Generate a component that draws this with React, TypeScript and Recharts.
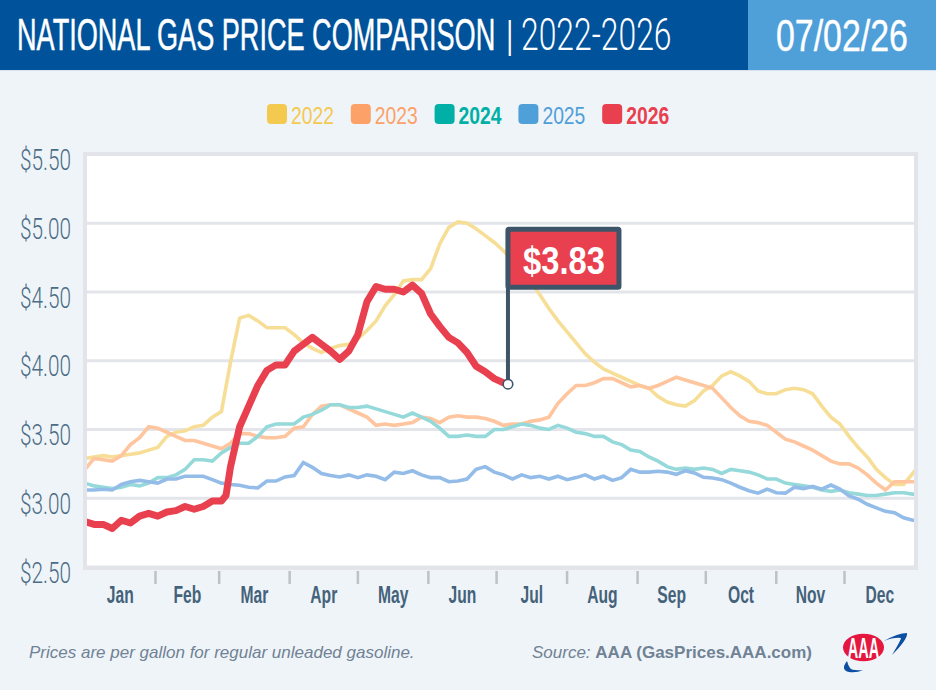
import { LineChart, Line, XAxis, YAxis, CartesianGrid } from 'recharts'

const days = [
  0, 4, 8, 12, 16, 20, 24, 28, 32, 36,
  40, 44, 48, 52, 56, 60, 64, 68, 72, 76,
  80, 84, 88, 92, 96, 100, 104, 108, 112, 116,
  120, 124, 128, 132, 136, 140, 144, 148, 152, 156,
  160, 164, 168, 172, 176, 180, 184, 188, 192, 196,
  200, 204, 208, 212, 216, 220, 224, 228, 232, 236,
  240, 244, 248, 252, 256, 260, 264, 268, 272, 276,
  280, 284, 288, 292, 296, 300, 304, 308, 312, 316,
  320, 324, 328, 332, 336, 340, 344, 348, 352, 356,
  360, 364, 365,
]

const prices2022 = [
  3.29, 3.3, 3.31, 3.3, 3.31, 3.32, 3.33, 3.35, 3.37, 3.45,
  3.48, 3.49, 3.52, 3.53, 3.59, 3.63, 3.99, 4.31, 4.33, 4.29,
  4.24, 4.24, 4.24, 4.19, 4.13, 4.09, 4.06, 4.09, 4.11, 4.12,
  4.16, 4.22, 4.29, 4.4, 4.48, 4.58, 4.59, 4.59, 4.67, 4.85,
  4.97, 5.01, 5.0, 4.96, 4.91, 4.86, 4.8, 4.73, 4.66, 4.58,
  4.48, 4.38, 4.29, 4.21, 4.13, 4.05, 3.99, 3.94, 3.91, 3.88,
  3.85, 3.82, 3.8, 3.74, 3.7, 3.68, 3.67, 3.71, 3.78, 3.82,
  3.89, 3.92, 3.89, 3.85, 3.78, 3.76, 3.76, 3.79, 3.8, 3.79,
  3.76, 3.67, 3.59, 3.54, 3.45, 3.37, 3.3, 3.21, 3.15, 3.1,
  3.1, 3.18, 3.2,
]

const prices2023 = [
  3.21, 3.29, 3.28, 3.27, 3.31, 3.39, 3.44, 3.52, 3.51, 3.48,
  3.45, 3.42, 3.42, 3.4, 3.38, 3.36, 3.4, 3.47, 3.47, 3.45,
  3.44, 3.44, 3.45, 3.51, 3.52, 3.61, 3.67, 3.68, 3.68, 3.65,
  3.62, 3.59, 3.53, 3.54, 3.53, 3.54, 3.55, 3.59, 3.58, 3.55,
  3.59, 3.6, 3.59, 3.59, 3.58, 3.56, 3.53, 3.54, 3.54, 3.56,
  3.57, 3.59, 3.69, 3.76, 3.82, 3.82, 3.84, 3.87, 3.87, 3.84,
  3.81, 3.82, 3.8, 3.82, 3.85, 3.88, 3.86, 3.84, 3.82, 3.8,
  3.73, 3.66, 3.6, 3.56, 3.55, 3.53, 3.48, 3.43, 3.41, 3.38,
  3.35, 3.31, 3.27, 3.25, 3.25, 3.22, 3.17, 3.11, 3.06, 3.12,
  3.12, 3.12, 3.12,
]

const prices2024 = [
  3.11, 3.09, 3.08, 3.07, 3.08, 3.1, 3.09, 3.11, 3.15, 3.15,
  3.17, 3.21, 3.28, 3.28, 3.27, 3.33, 3.37, 3.4, 3.4, 3.45,
  3.52, 3.54, 3.54, 3.54, 3.59, 3.61, 3.64, 3.68, 3.68, 3.66,
  3.66, 3.67, 3.65, 3.63, 3.61, 3.59, 3.62, 3.59, 3.56, 3.51,
  3.45, 3.45, 3.46, 3.45, 3.45, 3.5, 3.5, 3.52, 3.54, 3.53,
  3.51, 3.5, 3.53, 3.51, 3.48, 3.47, 3.45, 3.45, 3.41, 3.39,
  3.35, 3.34, 3.3, 3.27, 3.23, 3.21, 3.22, 3.21, 3.22, 3.21,
  3.18, 3.21, 3.2, 3.19, 3.17, 3.14, 3.14, 3.11, 3.1, 3.09,
  3.08, 3.06, 3.05, 3.06, 3.04, 3.03, 3.02, 3.02, 3.03, 3.04,
  3.04, 3.03, 3.03,
]

const prices2025 = [
  3.06, 3.06, 3.065, 3.06, 3.1, 3.12, 3.13, 3.12, 3.11, 3.14,
  3.14, 3.16, 3.16, 3.16, 3.135, 3.11, 3.1, 3.095, 3.08, 3.075,
  3.125, 3.125, 3.155, 3.165, 3.26, 3.225, 3.18, 3.165, 3.155, 3.17,
  3.15, 3.17, 3.16, 3.135, 3.19, 3.18, 3.2, 3.17, 3.15, 3.15,
  3.12, 3.125, 3.14, 3.21, 3.23, 3.19, 3.17, 3.14, 3.17, 3.15,
  3.16, 3.14, 3.16, 3.135, 3.15, 3.17, 3.14, 3.16, 3.13, 3.15,
  3.21, 3.19, 3.19, 3.196, 3.19, 3.174, 3.2, 3.184, 3.152, 3.147,
  3.135, 3.11, 3.08, 3.055, 3.037, 3.066, 3.04, 3.037, 3.08, 3.07,
  3.086, 3.066, 3.096, 3.066, 3.017, 2.993, 2.956, 2.93, 2.905, 2.895,
  2.858, 2.84, 2.84,
]

const days2026 = [
  0, 4, 8, 12, 16, 20, 24, 28, 32, 36,
  40, 44, 48, 52, 56, 60, 62, 64, 68, 72, 76,
  80, 84, 88, 92, 96, 100, 104, 108, 112, 116,
  120, 124, 128, 132, 136, 140, 144, 148, 152, 156,
  160, 164, 168, 172, 176, 180, 184, 186,
]

const prices2026 = [
  2.83, 2.81, 2.81, 2.78, 2.84, 2.82, 2.87, 2.89, 2.87, 2.9,
  2.91, 2.94, 2.92, 2.94, 2.98, 2.98, 3.02, 3.23, 3.52, 3.67, 3.82,
  3.93, 3.97, 3.97, 4.07, 4.12, 4.17, 4.12, 4.07, 4.01, 4.07,
  4.19, 4.43, 4.54, 4.52, 4.52, 4.5, 4.55, 4.49, 4.34, 4.25,
  4.17, 4.13, 4.06, 3.96, 3.92, 3.87, 3.84, 3.83,
]

const years = ['2022', '2023', '2024', '2025', '2026']
const legendColors = ['#F4C950', '#FCA168', '#00B0A6', '#4F9FD9', '#E8404F']
const lineColors = ['#F7DE96', '#FFC59E', '#96D9DA', '#94BCE8', '#E8404F']

const yTicks = [2.5, 3, 3.5, 4, 4.5, 5, 5.5]
const monthNames = ['Jan', 'Feb', 'Mar', 'Apr', 'May', 'Jun', 'Jul', 'Aug', 'Sep', 'Oct', 'Nov', 'Dec']
const monthMids = [15.5, 45, 74.5, 105, 135.5, 166, 196.5, 227.5, 258, 288.5, 319, 349.5]
const monthEdges = [31, 59, 90, 120, 151, 181, 212, 243, 273, 304, 334]

const rows = days.map((day, i) => ({
  day,
  y2022: prices2022[i],
  y2023: prices2023[i],
  y2024: prices2024[i],
  y2025: prices2025[i],
}))
const rows2026 = days2026.map((day, i) => ({ day, y2026: prices2026[i] }))

const SANS = '"Liberation Sans", sans-serif'
const SLATE = '#3E5468'

// no condensed font installed, so squeeze the glyphs horizontally
function at(x: number, y: number, sx: number) {
  return `translate(${x} ${y}) scale(${sx} 1)`
}

function PriceTick({ x, y, payload }: any) {
  return (
    <text
      transform={at(x, y + 15.5, 0.716)}
      textAnchor="end"
      fontFamily="Roboto" fontWeight={300} fontSize={29}
      fill="#4A6C86"
    >
      ${payload.value.toFixed(2)}
    </text>
  )
}

function MonthTick({ x, y, payload }: any) {
  const idx = monthMids.indexOf(payload.value)
  if (idx < 0) {
    return <line x1={x} x2={x} y1={y + 4} y2={y + 17} stroke="#BDC1C8" strokeWidth={2.5} />
  }
  return (
    <text
      transform={at(x, y + 36, 0.68)}
      textAnchor="middle"
      fontFamily={SANS} fontWeight={700} fontSize={23}
      fill="#44627A"
    >
      {monthNames[idx]}
    </text>
  )
}

// flag sits on the last 2026 point
function FlagDot({ cx, cy, index, value }: any) {
  if (index !== rows2026.length - 1) return <g key={index} />
  const top = cy - 155
  return (
    <g key={index}>
      <line x1={cx} x2={cx} y1={top} y2={cy} stroke={SLATE} strokeWidth={4} />
      <rect x={cx} y={top} width={111} height={58} rx={1} fill="#E8404F" stroke={SLATE} strokeWidth={5} />
      <text
        transform={at(cx + 56, top + 45, 0.84)}
        textAnchor="middle"
        fontFamily={SANS} fontWeight={700} fontSize={39}
        fill="#fff"
      >
        ${Number(value).toFixed(2)}
      </text>
      <circle cx={cx} cy={cy} r={4.8} fill="#fff" stroke={SLATE} strokeWidth={1.6} />
    </g>
  )
}

function Logo() {
  return (
    <svg width={76} height={50} style={{ position: 'absolute', left: 838, top: 628 }}>
      <path d="M 46 13 Q 60 5 69 5 Q 70 11 54 27 Q 63 12 63 10 Q 56 9 46 13 Z" fill="#0B4EA2" />
      <path d="M 9 33 Q 2 42 11 44 Q 19 45 25 42 Q 14 43 12 40 Q 10 37 9 33 Z" fill="#0B4EA2" />
      <ellipse cx={25.5} cy={19.5} rx={20.5} ry={13.8} fill="#E5173F" />
      <text
        transform={at(25.5, 30, 0.5)}
        textAnchor="middle"
        fontFamily={SANS} fontWeight={700} fontSize={29}
        fill="#fff"
      >
        AAA
      </text>
    </svg>
  )
}

export default function App() {
  return (
    <div style={{ position: 'absolute', left: 0, top: 0, width: 936, height: 690, background: '#EFF4F9', overflow: 'hidden' }}>
      <div style={{ position: 'absolute', left: 0, top: 0, width: 748, height: 70, background: '#00529B' }} />
      <div style={{ position: 'absolute', left: 748, top: 0, width: 188, height: 70, background: '#4F9FD9' }} />
      <div style={{ position: 'absolute', left: 0, top: 70, width: 936, height: 1, background: '#D5E3F0' }} />
      <svg width={936} height={70} style={{ position: 'absolute', left: 0, top: 0 }}>
        <text transform={at(17, 50, 0.616)} fontFamily={SANS} fontSize={44} fill="#fff" stroke="#fff" strokeWidth={0.5}>
          NATIONAL GAS PRICE COMPARISON
        </text>
        <text x={505} y={50} fontFamily="Roboto" fontWeight={300} fontSize={42} fill="#fff">|</text>
        <text transform={at(521, 50, 0.724)} fontFamily="Roboto" fontWeight={300} fontSize={44} fill="#fff">
          2022-2026
        </text>
        <text transform={at(776, 51, 0.77)} fontFamily={SANS} fontSize={44} fill="#fff" stroke="#fff" strokeWidth={0.4}>
          07/02/26
        </text>
      </svg>

      <svg width={936} height={40} style={{ position: 'absolute', left: 0, top: 95 }}>
        {years.map((year, i) => (
          <g key={year}>
            <rect x={267 + i * 83.8} y={9} width={20} height={20} rx={4} fill={legendColors[i]} />
            <text
              transform={at(291 + i * 83.8, 29, 0.805)}
              fontFamily={SANS} fontWeight={i === 2 || i === 4 ? 700 : 400} fontSize={24}
              fill={legendColors[i]}
            >
              {year}
            </text>
          </g>
        ))}
      </svg>

      <div style={{ position: 'absolute', left: 0, top: 0 }}>
        <LineChart
          width={936} height={690}
          data={rows}
          margin={{ top: 154.5, right: 21, left: 0, bottom: 83 }}
        >
          <CartesianGrid vertical={false} stroke="#E3E5EA" strokeWidth={3} fill="#fff" />
          <XAxis
            dataKey="day" type="number" domain={[0, 365]}
            ticks={[...monthEdges, ...monthMids]} interval={0}
            tick={MonthTick}
            tickLine={false} axisLine={false}
            tickSize={0} tickMargin={0}
            height={40}
          />
          <YAxis
            type="number" domain={[2.5, 5.5]}
            ticks={yTicks} interval={0}
            tick={PriceTick}
            tickLine={false} axisLine={false}
            tickSize={0} tickMargin={14}
            width={85}
          />
          {['y2022', 'y2023', 'y2024', 'y2025'].map((key, i) => (
            <Line
              key={key}
              dataKey={key}
              stroke={lineColors[i]} strokeWidth={3.6}
              dot={false}
              isAnimationActive={false}
            />
          ))}
          <Line
            data={rows2026}
            dataKey="y2026"
            stroke={lineColors[4]} strokeWidth={7}
            strokeLinejoin="round"
            dot={FlagDot}
            isAnimationActive={false}
          />
        </LineChart>
      </div>

      <div style={{ position: 'absolute', left: 83, top: 152, width: 835, height: 418, boxSizing: 'border-box', border: '4.5px solid #E2E4EA', pointerEvents: 'none' }} />

      <div style={{ position: 'absolute', left: 29, top: 643, fontFamily: SANS, fontStyle: 'italic', fontSize: 17, color: '#708294', whiteSpace: 'nowrap' }}>
        Prices are per gallon for regular unleaded gasoline.
      </div>
      <div style={{ position: 'absolute', left: 532, top: 643, fontFamily: SANS, fontSize: 17, color: '#708294', whiteSpace: 'nowrap' }}>
        <i>Source:</i> <b>AAA (GasPrices.AAA.com)</b>
      </div>
      <Logo />
    </div>
  )
}
